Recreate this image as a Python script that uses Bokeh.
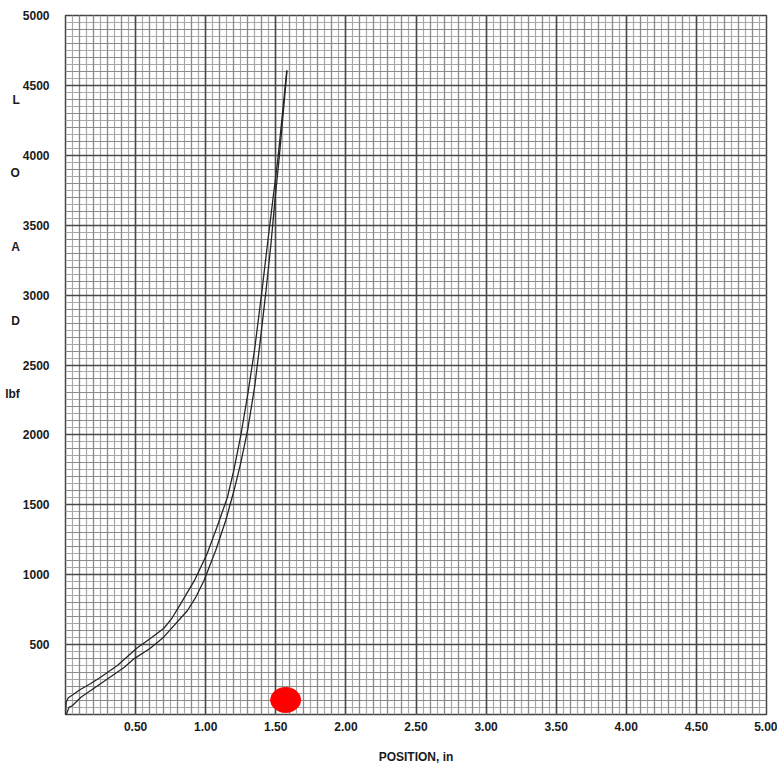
import numpy as np
from bokeh.plotting import figure
from bokeh.models import Range1d, FixedTicker, Grid, NumeralTickFormatter
from bokeh.embed import file_html
from bokeh.resources import INLINE

# ---- data ----
upper_x = [0.0, 0.005, 0.02, 0.05, 0.10, 0.18, 0.25, 0.37, 0.51, 0.60, 0.70, 0.76,
           0.82, 0.92, 1.01, 1.08, 1.155, 1.20, 1.25, 1.30, 1.35, 1.40, 1.44,
           1.48, 1.515, 1.545, 1.578]
upper_y = [0, 90, 120, 140, 175, 222, 267, 350, 475, 540, 615, 690,
           790, 959, 1150, 1340, 1554, 1745, 1995, 2290, 2620, 3020, 3360,
           3690, 3975, 4273, 4607]

lower_x = [0.0, 0.01, 0.025, 0.05, 0.11, 0.25, 0.42, 0.49, 0.60, 0.70, 0.87,
           0.93, 0.988, 1.071, 1.143, 1.202, 1.25, 1.30, 1.35, 1.39, 1.43,
           1.465, 1.495, 1.525, 1.552, 1.58]
lower_y = [0, 10, 52, 64, 124, 220, 338, 400, 470, 553, 744,
           840, 959, 1173, 1388, 1602, 1800, 2040, 2350, 2680, 3030,
           3360, 3690, 3990, 4290, 4607]

x_ticks = [0.5, 1.0, 1.5, 2.0, 2.5, 3.0, 3.5, 4.0, 4.5, 5.0]
y_ticks = [500, 1000, 1500, 2000, 2500, 3000, 3500, 4000, 4500, 5000]

marker_x = [1.57]
marker_y = [104]

y_title_parts = ["L", "O", "A", "D", "lbf"]
x_title = "POSITION, in"

# ---- figure ----
p = figure(width=777, height=767, x_range=Range1d(0, 5), y_range=Range1d(0, 5000),
           output_backend="svg", toolbar_location=None,
           min_border_left=65, min_border_right=11, min_border_top=15, min_border_bottom=53,
           background_fill_color="white", border_fill_color="white")

p.xgrid.visible = False
p.ygrid.visible = False

grid_styles = [(0.05, 50, "#a8a8a8", 1.2), (0.1, 100, "#8a8a8a", 1.2), (0.5, 500, "#484848", 1.5)]
for xs, ys, col, w in grid_styles:
    gx = Grid(dimension=0, ticker=FixedTicker(ticks=[float(v) for v in np.round(np.arange(0, 5.0001, xs), 3)]),
              grid_line_color=col, grid_line_width=w)
    gy = Grid(dimension=1, ticker=FixedTicker(ticks=[float(v) for v in np.arange(0, 5001, ys)]),
              grid_line_color=col, grid_line_width=w)
    p.add_layout(gx)
    p.add_layout(gy)

p.line(upper_x, upper_y, line_color="#262626", line_width=1.3)
p.line(lower_x, lower_y, line_color="#262626", line_width=1.3)

p.ellipse(x=marker_x, y=marker_y, width=0.214, height=180,
          fill_color="#ff0000", line_color="#ff0000")

for ax in (p.xaxis, p.yaxis):
    ax.axis_line_color = None
    ax.major_tick_line_color = None
    ax.minor_tick_line_color = None
    ax.major_tick_out = 0
    ax.major_tick_in = 0
    ax.major_label_text_font = "Liberation Sans"
    ax.major_label_text_font_style = "bold"
    ax.major_label_text_font_size = "12px"
    ax.major_label_text_color = "#1a1a1a"
    ax.axis_label_text_font = "Liberation Sans"
    ax.axis_label_text_font_style = "bold"
    ax.axis_label_text_font_size = "12px"
    ax.axis_label_text_color = "#1a1a1a"

p.xaxis.ticker = FixedTicker(ticks=x_ticks)
p.xaxis.formatter = NumeralTickFormatter(format="0.00")
p.xaxis.major_label_standoff = 7
p.xaxis.axis_label = x_title
p.xaxis.axis_label_standoff = 16

p.yaxis.ticker = FixedTicker(ticks=y_ticks)
p.yaxis.formatter = NumeralTickFormatter(format="0")
p.yaxis.major_label_standoff = 16

# stacked vertical "L O A D lbf" title, spaced down the left margin
gap = [""] * 4
lines = []
for part in y_title_parts:
    lines.append(part)
    lines.extend(gap)
lines = lines[:-4] + [""] * 16
p.yaxis.axis_label = "\n".join(lines)
p.yaxis.axis_label_orientation = "horizontal"
p.yaxis.axis_label_standoff = 0
p.yaxis.axis_label_text_line_height = 1.053

p.outline_line_color = "#444444"
p.outline_line_width = 1.5

open("out.html", "w").write(file_html(p, INLINE))
